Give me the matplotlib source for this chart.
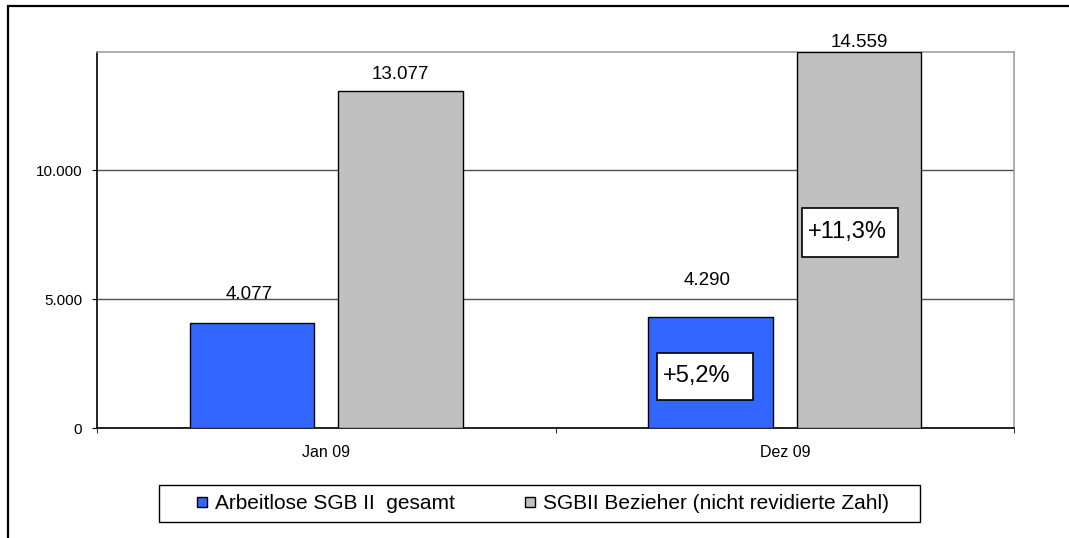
import matplotlib
matplotlib.use("Agg")
import matplotlib.pyplot as plt
from matplotlib.patches import Rectangle
from matplotlib.lines import Line2D
import numpy as np

plt.rcParams['font.family'] = ['Liberation Sans', 'DejaVu Sans']

categories = ["Jan 09", "Dez 09"]
series_names = ["Arbeitlose SGB II  gesamt", "SGBII Bezieher (nicht revidierte Zahl)"]
arbeitlose = [4077, 4290]
bezieher = [13077, 14559]
arbeitlose_labels = ["4.077", "4.290"]
bezieher_labels = ["13.077", "14.559"]
change_labels = ["+5,2%", "+11,3%"]
ytick_values = [0, 5000, 10000]
ytick_labels = ["0", "5.000", "10.000"]

colors = ["#3366FF", "#C0C0C0"]

W, H = 1069, 538
fig = plt.figure(figsize=(W / 100, H / 100), dpi=100)

# outer chart frame (cut off at right/bottom like the reference)
fig.patches.append(Rectangle((8 / W, -0.2), 1.5, 1 - 6 / H + 0.2, transform=fig.transFigure,
                             fill=False, edgecolor="black", linewidth=1.6, clip_on=False))

L, R, T, B = 97, 1014, 52, 428
ax = fig.add_axes([L / W, 1 - B / H, (R - L) / W, (B - T) / H])

x = np.arange(len(categories))
off = 0.162
bw = 0.272
ax.bar(x - off, arbeitlose, width=bw, color=colors[0], edgecolor="black", linewidth=1, zorder=3)
ax.bar(x + off, bezieher, width=bw, color=colors[1], edgecolor="black", linewidth=1, zorder=3)

ax.set_xlim(-0.5, 1.5)
ax.set_ylim(0, 14574)

ax.set_yticks(ytick_values)
ax.set_yticklabels(ytick_labels, fontsize=11)
ax.yaxis.grid(True, color="#505050", linewidth=1, zorder=0)
ax.set_axisbelow(True)

ax.set_xticks(x)
ax.set_xticklabels(categories, fontsize=11.5)
ax.set_xticks([-0.5, 0.5, 1.5], minor=True)
ax.tick_params(axis="x", which="major", length=0, pad=12.5)
ax.tick_params(axis="x", which="minor", length=3.6, direction="out", color="black")
ax.tick_params(axis="y", length=3.6, direction="out", color="black", pad=7)

for s in ["left", "bottom"]:
    ax.spines[s].set_color("black")
    ax.spines[s].set_linewidth(1.2)
for s in ["top", "right"]:
    ax.spines[s].set_color("#A0A0A0")
    ax.spines[s].set_linewidth(1.2)

# value labels (manually placed in the reference, offsets in pixels)
a_offsets = [28, 37]
b_offsets = [16, 10]
for i in range(len(categories)):
    ax.annotate(arbeitlose_labels[i], (x[i] - off, arbeitlose[i]), xytext=(-3, a_offsets[i]),
                textcoords="offset pixels", ha="center", va="center", fontsize=13.5, zorder=5)
    ax.annotate(bezieher_labels[i], (x[i] + off, bezieher[i]), xytext=(0, b_offsets[i]),
                textcoords="offset pixels", ha="center", va="center", fontsize=13.5, zorder=5)

# percentage change boxes
boxes = [(0.6107, 0.0745, 0.1047, 0.125), (0.7688, 0.4548, 0.1047, 0.1303)]
for (bx, by, bwid, bh), lab in zip(boxes, change_labels):
    ax.add_patch(Rectangle((bx, by), bwid, bh, transform=ax.transAxes, facecolor="white",
                           edgecolor="black", linewidth=1.2, zorder=6))
    ax.text(bx + 0.0065, by + bh / 2, lab, transform=ax.transAxes, ha="left", va="center",
            fontsize=17, zorder=7)

# legend with frame drawn as a fixed box
fig.patches.append(Rectangle((159 / W, 1 - 522 / H), (920 - 159) / W, (522 - 485) / H,
                             transform=fig.transFigure, facecolor="white", edgecolor="black",
                             linewidth=1.0, zorder=1))
handles = [Line2D([], [], marker="s", linestyle="none", markersize=7.5, markerfacecolor=c,
                  markeredgecolor="black", markeredgewidth=1) for c in colors]
leg = fig.legend(handles, series_names, loc="center", bbox_to_anchor=(542.5 / W, 1 - 503.5 / H),
                 ncol=2, fontsize=15, frameon=False,
                 handlelength=0.5, handletextpad=0.38, columnspacing=3.35, borderpad=0.2)
leg.set_zorder(2)

fig.savefig("out.png", dpi=100)
